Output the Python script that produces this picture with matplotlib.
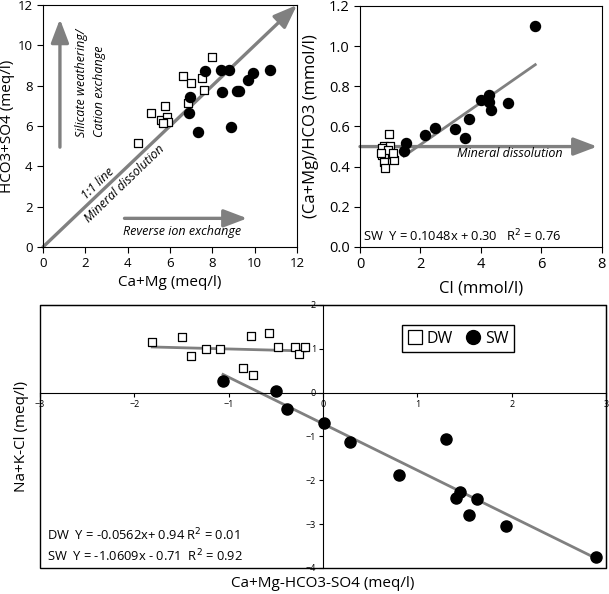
import numpy as np
import matplotlib
matplotlib.use('Agg')
import matplotlib.pyplot as plt
from matplotlib.patches import Rectangle
from matplotlib.lines import Line2D

plt.rcParams['font.family'] = ['Open Sans', 'DejaVu Sans']

# panel a: HCO3+SO4 vs Ca+Mg (meq/l)
dw_camg = [4.47, 5.10, 5.75, 5.57, 5.86, 5.90, 5.68, 6.61, 7.00, 7.50, 7.59, 7.98, 6.85]
dw_hco3so4 = [5.17, 6.62, 7.00, 6.32, 6.47, 6.22, 6.16, 8.47, 8.12, 8.39, 7.78, 9.43, 7.15]
sw_camg = [7.67, 8.39, 8.80, 8.47, 9.15, 9.27, 9.67, 9.90, 10.72, 8.87, 6.94, 6.91, 7.34]
sw_hco3so4 = [8.75, 8.78, 8.78, 7.68, 7.74, 7.73, 8.27, 8.63, 8.80, 5.94, 7.44, 6.62, 5.71]

# panel b: (Ca+Mg)/HCO3 vs Cl (mmol/l)
dw_cl = [0.97, 0.81, 0.99, 0.72, 0.87, 1.05, 0.80, 0.83, 1.12, 0.74, 0.94, 0.69, 1.10]
dw_ratio = [0.565, 0.502, 0.505, 0.46, 0.465, 0.465, 0.422, 0.394, 0.432, 0.494, 0.482, 0.47, 0.47]
sw_cl = [1.45, 1.53, 2.14, 2.49, 3.13, 3.49, 3.61, 4.01, 4.26, 4.28, 4.33, 4.89, 5.80]
sw_ratio = [0.48, 0.517, 0.557, 0.592, 0.587, 0.545, 0.638, 0.73, 0.758, 0.72, 0.68, 0.717, 1.10]
sw_fit_b = (0.1048, 0.30)

# panel c: Na+K-Cl vs Ca+Mg-HCO3-SO4 (meq/l)
dw_x = [-1.81, -1.49, -1.40, -1.24, -1.09, -0.85, -0.76, -0.74, -0.57, -0.48, -0.30, -0.25, -0.19]
dw_y = [1.165, 1.26, 0.83, 1.00, 1.00, 0.57, 1.30, 0.40, 1.37, 1.03, 1.035, 0.88, 1.05]
sw_x = [-1.06, -0.50, -0.38, 0.01, 0.29, 1.30, 0.81, 1.41, 1.45, 1.63, 1.55, 1.94, 2.89]
sw_y = [0.27, 0.04, -0.38, -0.69, -1.12, -1.06, -1.89, -2.41, -2.27, -2.43, -2.79, -3.04, -3.74]
dw_fit_c = (-0.0562, 0.94)
sw_fit_c = (-1.0609, -0.71)

gray = '#808080'
fig = plt.figure(figsize=(6.09, 5.94), dpi=100)


def arrow(ax, start, end):
    ax.annotate('', xy=end, xytext=start, annotation_clip=False,
                arrowprops=dict(arrowstyle='-|>,head_length=0.95,head_width=0.36',
                                mutation_scale=15, color=gray, lw=2.4,
                                shrinkA=0, shrinkB=0), zorder=1)


# ---- panel a
ax1 = fig.add_axes([0.0706, 0.5842, 0.4171, 0.4074])
arrow(ax1, (0, 0), (12, 12))
arrow(ax1, (0.8, 4.95), (0.8, 11.3))
arrow(ax1, (3.85, 1.42), (9.65, 1.42))
ax1.scatter(dw_camg, dw_hco3so4, marker='s', s=28, facecolor='white', edgecolor='black', lw=0.9, zorder=3)
ax1.scatter(sw_camg, sw_hco3so4, marker='o', s=52, color='black', zorder=3)
ax1.set_xlim(0, 12)
ax1.set_ylim(0, 12)
ax1.set_xticks(range(0, 13, 2))
ax1.set_yticks(range(0, 13, 2))
ax1.tick_params(labelsize=9.5, length=4, width=0.8)
ax1.set_xlabel('Ca+Mg (meq/l)', fontsize=11)
ax1.set_ylabel('HCO3+SO4 (meq/l)', fontsize=11)
ax1.yaxis.set_label_coords(-0.11, 0.5)
ax1.xaxis.set_label_coords(0.5, -0.115)
ax1.text(1.83, 5.46, 'Silicate weathering/', rotation=90, ha='center', va='bottom', style='italic', fontsize=9)
ax1.text(2.69, 5.46, 'Cation exchange', rotation=90, ha='center', va='bottom', style='italic', fontsize=9)
ax1.text(2.61, 3.15, '1:1 line', rotation=44, rotation_mode='anchor', ha='center', va='center', style='italic', fontsize=9)
ax1.text(3.87, 3.12, 'Mineral dissolution', rotation=44, rotation_mode='anchor', ha='center', va='center', style='italic', fontsize=9)
ax1.text(6.55, 0.78, 'Reverse ion exchange', ha='center', va='center', style='italic', fontsize=9)

# ---- panel b
ax2 = fig.add_axes([0.5911, 0.5842, 0.3970, 0.4057])
arrow(ax2, (0, 0.5), (7.85, 0.5))
ax2.scatter(dw_cl, dw_ratio, marker='s', s=28, facecolor='white', edgecolor='black', lw=0.9, zorder=3)
ax2.scatter(sw_cl, sw_ratio, marker='o', s=52, color='black', zorder=3)
xb = np.array([min(sw_cl), max(sw_cl)])
ax2.plot(xb, sw_fit_b[0] * xb + sw_fit_b[1], color=gray, lw=2, zorder=2)
ax2.set_xlim(0, 8)
ax2.set_ylim(0, 1.2)
ax2.set_xticks(range(0, 9, 2))
ax2.set_yticks(np.arange(0, 1.21, 0.2))
ax2.yaxis.set_major_formatter(matplotlib.ticker.FormatStrFormatter('%.1f'))
ax2.tick_params(labelsize=10.5, length=4, width=0.8)
ax2.set_xlabel('Cl (mmol/l)', fontsize=12)
ax2.set_ylabel('(Ca+Mg)/HCO3 (mmol/l)', fontsize=12)
ax2.yaxis.set_label_coords(-0.17, 0.5)
ax2.xaxis.set_label_coords(0.5, -0.14)
ax2.text(4.95, 0.465, 'Mineral dissolution', ha='center', va='center', style='italic', fontsize=9)
ax2.text(0.014, 0.046, 'SW  Y = 0.1048x + 0.30   R$^2$ = 0.76', transform=ax2.transAxes,
         ha='left', va='center', fontsize=9.3)

# ---- panel c
ax3 = fig.add_axes([0.0657, 0.0438, 0.9294, 0.4428])
ax3.scatter(dw_x, dw_y, marker='s', s=40, facecolor='white', edgecolor='black', lw=0.9, zorder=3)
ax3.scatter(sw_x, sw_y, marker='o', s=64, color='black', zorder=3)
xd = np.array([min(dw_x), max(dw_x)])
ax3.plot(xd, dw_fit_c[0] * xd + dw_fit_c[1], color=gray, lw=2, zorder=2)
xs = np.array([min(sw_x), max(sw_x)])
ax3.plot(xs, sw_fit_c[0] * xs + sw_fit_c[1], color=gray, lw=2, zorder=2)
ax3.set_xlim(-3, 3)
ax3.set_ylim(-4, 2)
ax3.set_xticks(range(-3, 4))
ax3.set_yticks(range(-4, 3))
ax3.spines['left'].set_position('zero')
ax3.spines['bottom'].set_position('zero')
ax3.add_patch(Rectangle((0, 0), 1, 1, transform=ax3.transAxes, fill=False, lw=1, ec='black', clip_on=False))
ax3.tick_params(labelsize=6.5, length=3, width=0.8, pad=2)
ax3.set_xlabel('Ca+Mg-HCO3-SO4 (meq/l)', fontsize=11)
ax3.set_ylabel('Na+K-Cl (meq/l)', fontsize=11)
ax3.xaxis.set_label_coords(0.5, -0.03)
ax3.yaxis.set_label_coords(-0.02, 0.5)
ax3.text(0.012, 0.125, 'DW  Y = -0.0562x+ 0.94 R$^2$ = 0.01', transform=ax3.transAxes,
         ha='left', va='center', fontsize=9.3)
ax3.text(0.012, 0.046, 'SW  Y = -1.0609x - 0.71  R$^2$ = 0.92', transform=ax3.transAxes,
         ha='left', va='center', fontsize=9.3)
handles = [Line2D([], [], marker='s', ls='', ms=10, mfc='white', mec='black', mew=0.9),
           Line2D([], [], marker='o', ls='', ms=10, color='black')]
leg = ax3.legend(handles, ['DW', 'SW'], loc='upper left', bbox_to_anchor=(0.639, 0.924),
                 borderaxespad=0, ncol=2, fontsize=11.5, fancybox=False, edgecolor='black',
                 framealpha=1, handletextpad=0.2, columnspacing=0.8, handlelength=1.0,
                 borderpad=0.35)
leg.get_frame().set_linewidth(1)

fig.savefig('out.png', dpi=100)
